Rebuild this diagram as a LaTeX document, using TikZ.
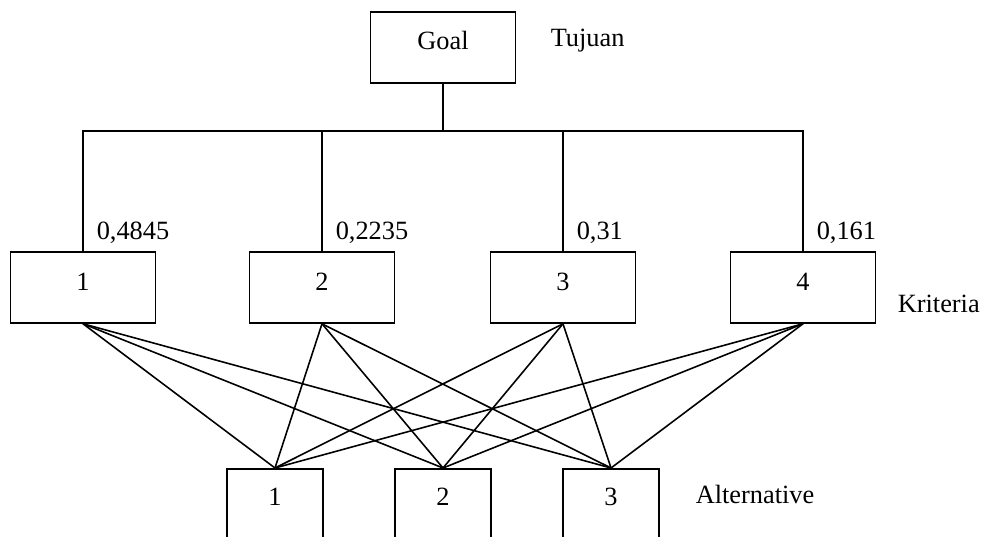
\documentclass[tikz,border=0pt]{standalone}
\usepackage{fontspec}
\setmainfont{Liberation Serif}
\usetikzlibrary{calc}
\tikzset{
  levelbox/.style={
    draw,
    shape = rectangle,
    line width = 0.9pt,
    minimum width = 2.9cm,
    minimum height = 1.42cm,
    text height = 0.36cm,
    text depth = 0.26cm
  },
  altbox/.style={
    draw,
    shape = rectangle,
    line width = 0.9pt,
    anchor = north,
    minimum width = 1.92cm,
    minimum height = 1.8cm,
    text height = 0.36cm,
    text depth = 0.7cm
  },
  weight/.style={
    anchor = base west,
    inner sep = 0pt
  },
  every picture/.style = {
    font=\fontsize{15}{18}\selectfont
  }
}
\begin{document}
\begin{tikzpicture}[x=0.02cm,y=-0.02cm,line width=0.9pt]
            \useasboundingbox (0,0) rectangle (990,537);
            \clip (0,0) rectangle (990,537);
            \node[levelbox] (goal) at (443,47.5) {Goal};
            \node[weight] (tujuan) at (550,46.7) {Tujuan};
            \coordinate (bar) at (443,131);
            \foreach \i/\x/\w in {1/83/{0,4845},2/322/{0,2235},3/563/{0,31},4/803/{0,161}}{
                    \node[levelbox] (crit\i) at (\x,287.5) {\i};
                    \node[weight] (w\i) at (\x+13,239) {\w};
                    \draw (goal.south) -- (bar) -| (crit\i.north);
                }
            \node[weight] (kriteria) at (897,312) {Kriteria};
            \foreach \j/\x in {1/275,2/443,3/611}{
                    \node[altbox] (alt\j) at (\x,468) {\j};
                    \foreach \i in {1,...,4}
                        \draw (crit\i.south) -- (alt\j.north);
                }
            \node[weight] (alternative) at (695,503) {Alternative};
        \end{tikzpicture}
\end{document}
